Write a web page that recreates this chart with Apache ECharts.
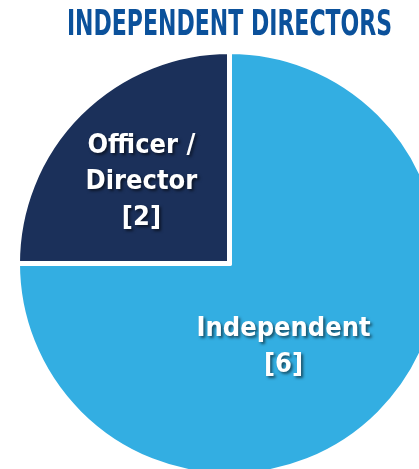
<!DOCTYPE html>
<html>
<head>
<meta charset="utf-8">
<script src="https://cdn.jsdelivr.net/npm/echarts@6/dist/echarts.min.js"></script>
<style>
  html, body { margin: 0; padding: 0; background: #fff; }
  #chart { width: 419px; height: 469px; }
</style>
</head>
<body>
<div id="chart"></div>
<script>
// values
const categories = ['Independent', 'Officer /\nDirector'];
const counts = [6, 2];
const colors = ['#33aee2', '#1b305a'];
const titleText = 'INDEPENDENT DIRECTORS';

const chart = echarts.init(document.getElementById('chart'));

const font = "'DejaVu Sans Condensed', 'Liberation Sans Narrow', sans-serif";

const option = {
    animation: false,
    // title drawn as graphic text so it can be squeezed like the condensed original
    graphic: [
        {
            type: 'text',
            x: 229.5,
            y: 26,
            scaleX: 0.68,
            style: {
                text: titleText,
                align: 'center',
                verticalAlign: 'middle',
                fontFamily: font,
                fontWeight: 'bold',
                fontSize: 36,
                fill: '#0b519b'
            }
        }
    ],
    series: [
        {
            type: 'pie',
            center: [229.5, 263.5],
            radius: 212,
            startAngle: 90,
            clockwise: true,
            itemStyle: {
                borderColor: '#fff',
                borderWidth: 5
            },
            label: {
                show: true,
                position: 'inside',
                formatter: p => p.name + '\n[' + p.value + ']',
                color: '#fff',
                fontFamily: font,
                fontWeight: 'bold',
                fontSize: 27,
                lineHeight: 36,
                textShadowColor: 'rgba(0,0,0,0.55)',
                textShadowBlur: 3,
                textShadowOffsetX: 2,
                textShadowOffsetY: 2
            },
            labelLine: { show: false },
            emphasis: { disabled: true },
            data: categories.map((name, i) => ({
                name: name,
                value: counts[i],
                itemStyle: { color: colors[i] },
                label: { offset: i === 0 ? [-23, 6] : [-11, -4] }
            }))
        }
    ]
};

chart.setOption(option);
</script>
</body>
</html>
